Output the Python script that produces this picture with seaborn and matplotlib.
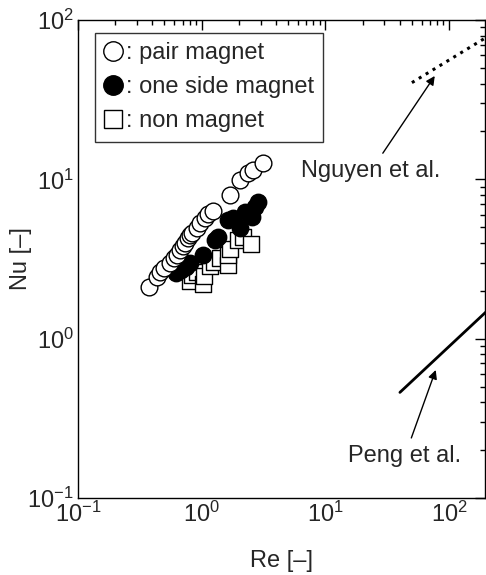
import matplotlib
matplotlib.use('Agg')
import matplotlib.pyplot as plt
from matplotlib.lines import Line2D
from matplotlib.ticker import LogLocator, NullFormatter
import numpy as np
import pandas as pd
import seaborn as sns

# pair magnet (open circles)
pair_re = [0.377, 0.433, 0.46, 0.50, 0.554, 0.60, 0.63, 0.667, 0.70, 0.73, 0.77,
           0.80, 0.83, 0.91, 0.97, 1.06, 1.12, 1.23, 1.69, 2.04, 2.36, 2.59, 3.12]
pair_nu = [2.12, 2.45, 2.63, 2.78, 2.99, 3.2, 3.35, 3.6, 3.8, 3.99, 4.29,
           4.45, 4.61, 4.95, 5.33, 5.72, 6.06, 6.36, 7.98, 9.91, 10.97, 11.5, 12.7]

# one side magnet (filled circles)
one_re = [0.62, 0.68, 0.745, 0.80, 1.02, 1.28, 1.35, 1.63, 1.79, 2.04, 2.23, 2.53, 2.69, 2.84]
one_nu = [2.58, 2.70, 2.83, 2.99, 3.35, 4.17, 4.37, 5.56, 5.72, 4.95, 6.27, 5.83, 6.74, 7.25]

# non magnet (open squares)
non_re = [0.80, 0.83, 0.91, 1.02, 1.04, 1.16, 1.26, 1.40, 1.63, 1.63, 1.69, 1.96, 2.15, 2.50]
non_nu = [2.30, 2.51, 2.62, 2.20, 2.48, 2.86, 3.03, 3.21, 2.90, 3.35, 3.66, 4.17, 4.35, 3.93]

# correlations from literature
nguyen_re = [50, 200]
nguyen_nu = [40.5, 78]
peng_re = [40, 200]
peng_nu = [0.46, 1.48]

sns.set_style('white')
plt.rcParams['font.family'] = ['Liberation Sans', 'DejaVu Sans']
plt.rcParams['mathtext.default'] = 'regular'

fig = plt.figure(figsize=(4.86, 5.75), dpi=100)
ax = fig.add_axes([0.1605, 0.134, 0.8375, 0.831])
ax.set_xscale('log')
ax.set_yscale('log')

sns.scatterplot(x=non_re, y=non_nu, marker='s', s=130, facecolor='white',
                edgecolor='black', linewidth=1.0, ax=ax, zorder=3)
sns.scatterplot(x=one_re, y=one_nu, marker='o', s=140, color='black',
                edgecolor='black', linewidth=1.0, ax=ax, zorder=4)
sns.scatterplot(x=pair_re, y=pair_nu, marker='o', s=145, facecolor='white',
                edgecolor='black', linewidth=1.0, ax=ax, zorder=5)

sns.lineplot(x=nguyen_re, y=nguyen_nu, color='black', linestyle=':', linewidth=2.2, ax=ax)
sns.lineplot(x=peng_re, y=peng_nu, color='black', linestyle='-', linewidth=2.0, ax=ax)

ax.annotate('Nguyen et al.', xy=(76.5, 44.6), xytext=(23.3, 11.3),
            ha='center', va='center', fontsize=17,
            arrowprops=dict(arrowstyle='-|>', color='black', lw=1.0,
                            mutation_scale=13, shrinkA=3, shrinkB=0))
ax.annotate('Peng et al.', xy=(77.9, 0.636), xytext=(43.8, 0.183),
            ha='center', va='center', fontsize=17,
            arrowprops=dict(arrowstyle='-|>', color='black', lw=1.0,
                            mutation_scale=13, shrinkA=3, shrinkB=0))

ax.set_xlim(0.1, 195)
ax.set_ylim(0.1, 100)

ax.xaxis.set_major_locator(LogLocator(base=10, numticks=10))
ax.yaxis.set_major_locator(LogLocator(base=10, numticks=10))
ax.xaxis.set_minor_locator(LogLocator(base=10, subs=np.arange(2, 10), numticks=20))
ax.yaxis.set_minor_locator(LogLocator(base=10, subs=np.arange(2, 10), numticks=20))
ax.xaxis.set_minor_formatter(NullFormatter())
ax.yaxis.set_minor_formatter(NullFormatter())
ax.tick_params(which='both', direction='in', top=True, right=True, color='black', width=1.0)
ax.tick_params(which='major', length=7, labelsize=17, pad=3)
ax.tick_params(which='minor', length=3.5)
for sp in ax.spines.values():
    sp.set_color('black')
    sp.set_linewidth(1.0)

ax.set_xlabel('Re [\u2013]', fontsize=17)
ax.set_ylabel('Nu [\u2013]', fontsize=17)
ax.xaxis.set_label_coords(0.5, -0.108)
ax.yaxis.set_label_coords(-0.113, 0.5)

handles = [
    Line2D([], [], marker='o', linestyle='none', markersize=14,
           markerfacecolor='white', markeredgecolor='black'),
    Line2D([], [], marker='o', linestyle='none', markersize=14,
           markerfacecolor='black', markeredgecolor='black'),
    Line2D([], [], marker='s', linestyle='none', markersize=13,
           markerfacecolor='white', markeredgecolor='black'),
]
labels = [': pair magnet', ': one side magnet', ': non magnet']
leg = ax.legend(handles, labels, loc='upper left', bbox_to_anchor=(0.042, 0.973),
                fontsize=17, frameon=True, fancybox=False, handlelength=0.7,
                handletextpad=0.2, labelspacing=0.5, borderpad=0.4,
                borderaxespad=0.0)
leg.get_frame().set_edgecolor('black')
leg.get_frame().set_linewidth(1.0)

fig.savefig('out.png', dpi=100)
